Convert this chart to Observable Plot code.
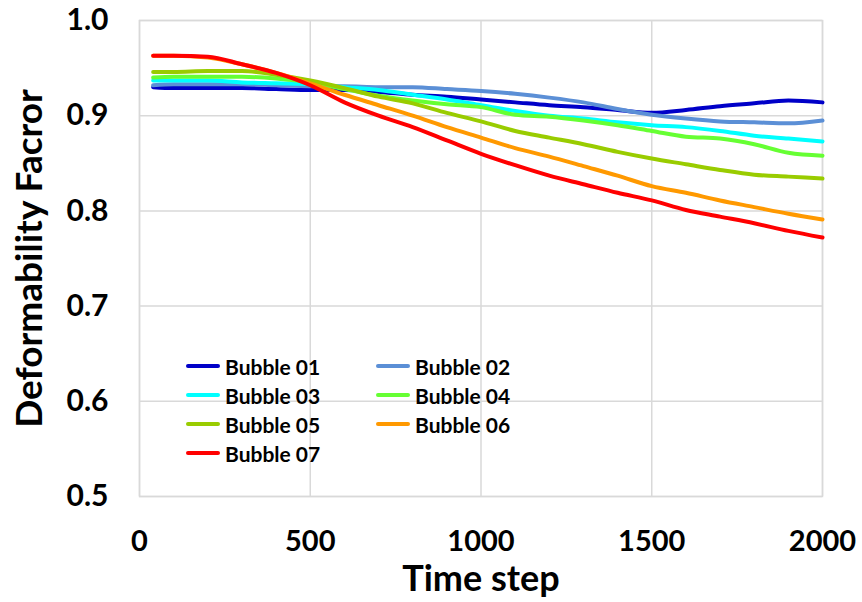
<!DOCTYPE html>
<html>
<head>
<meta charset="utf-8">
<script src="https://cdn.jsdelivr.net/npm/d3@7"></script>
<script src="https://cdn.jsdelivr.net/npm/@observablehq/plot@0.6"></script>
<style>
  body { margin: 0; background: #fff; }
  #wrap { position: relative; width: 862px; height: 602px; font-family: Lato, "Open Sans", sans-serif; }
  #legend { position: absolute; left: 186px; top: 353px; display: grid; grid-template-columns: 190px 190px; row-gap: 3px; font-weight: 700; font-size: 21px; color: #000; }
  .item { display: flex; align-items: center; height: 26px; }
  .sw { width: 34px; height: 4px; border-radius: 2px; margin-right: 5px; }
</style>
</head>
<body>
<div id="wrap"></div>
<script>
const steps = [40, 100, 200, 300, 400, 500, 600, 700, 800, 900, 1000, 1100, 1200, 1300, 1400, 1500, 1600, 1700, 1800, 1900, 2000];
const seriesNames = ["Bubble 01", "Bubble 02", "Bubble 03", "Bubble 04", "Bubble 05", "Bubble 06", "Bubble 07"];
const colors = ["#0000C8", "#5B8FD6", "#00FFFF", "#66FF33", "#99CC00", "#FF9900", "#FF0000"];
const bubble01 = [0.930, 0.929, 0.929, 0.929, 0.928, 0.927, 0.927, 0.925, 0.922, 0.920, 0.917, 0.914, 0.911, 0.909, 0.906, 0.903, 0.906, 0.910, 0.913, 0.916, 0.914];
const bubble02 = [0.932, 0.933, 0.933, 0.933, 0.932, 0.931, 0.931, 0.930, 0.930, 0.928, 0.926, 0.923, 0.919, 0.914, 0.907, 0.901, 0.897, 0.894, 0.893, 0.892, 0.895];
const bubble03 = [0.937, 0.937, 0.937, 0.935, 0.934, 0.933, 0.930, 0.927, 0.922, 0.917, 0.911, 0.905, 0.900, 0.897, 0.893, 0.890, 0.888, 0.884, 0.879, 0.876, 0.873];
const bubble04 = [0.940, 0.941, 0.941, 0.941, 0.939, 0.935, 0.928, 0.921, 0.916, 0.912, 0.909, 0.901, 0.899, 0.895, 0.890, 0.884, 0.878, 0.876, 0.870, 0.861, 0.858];
const bubble05 = [0.946, 0.946, 0.947, 0.947, 0.943, 0.937, 0.929, 0.920, 0.913, 0.903, 0.894, 0.884, 0.877, 0.870, 0.862, 0.855, 0.849, 0.843, 0.838, 0.836, 0.834];
const bubble06 = [0.963, 0.963, 0.961, 0.954, 0.945, 0.934, 0.922, 0.911, 0.900, 0.888, 0.877, 0.866, 0.857, 0.847, 0.837, 0.826, 0.819, 0.811, 0.804, 0.797, 0.791];
const bubble07 = [0.963, 0.963, 0.962, 0.954, 0.945, 0.932, 0.914, 0.900, 0.888, 0.874, 0.860, 0.848, 0.837, 0.828, 0.819, 0.811, 0.801, 0.794, 0.787, 0.779, 0.772];
const xTicks = [0, 500, 1000, 1500, 2000];
const yTicks = [0.5, 0.6, 0.7, 0.8, 0.9, 1.0];

const allSeries = [bubble01, bubble02, bubble03, bubble04, bubble05, bubble06, bubble07];
const data = [];
allSeries.forEach((vals, i) => vals.forEach((v, j) => data.push({series: seriesNames[i], step: steps[j], value: v})));

const grid = "#d9d9d9";
const chart = Plot.plot({
  width: 862,
  height: 602,
  marginLeft: 139,
  marginRight: 40,
  marginTop: 20,
  marginBottom: 106,
  style: {fontFamily: "Lato, 'Open Sans', sans-serif", background: "#fff", overflow: "visible"},
  x: {domain: [0, 2000], ticks: xTicks},
  y: {domain: [0.5, 1.0], ticks: yTicks},
  color: {domain: seriesNames, range: colors},
  marks: [
    Plot.gridX(xTicks, {stroke: grid, strokeOpacity: 1, strokeWidth: 1.5}),
    Plot.gridY(yTicks, {stroke: grid, strokeOpacity: 1, strokeWidth: 1.5}),
    Plot.frame({stroke: grid, strokeWidth: 1.5}),
    Plot.axisX(xTicks, {tickSize: 0, tickPadding: 34, fontSize: 29, fontWeight: 700, fill: "#000", tickFormat: d => String(d), label: null}),
    Plot.axisY(yTicks, {tickSize: 0, tickPadding: 31, fontSize: 30, fontWeight: 700, fill: "#000", tickFormat: d => d.toFixed(1), label: null}),
    Plot.text(["Time step"], {frameAnchor: "bottom", dy: 83, fontSize: 36, fontWeight: 700, fill: "#000", lineAnchor: "middle"}),
    Plot.text(["Deformability Facror"], {frameAnchor: "left", dx: -109, rotate: -90, textAnchor: "middle", lineAnchor: "middle", fontSize: 37, fontWeight: 700, fill: "#000"}),
    Plot.line(data, {x: "step", y: "value", z: "series", stroke: "series", strokeWidth: 4, curve: "monotone-x"})
  ]
});
document.getElementById("wrap").appendChild(chart);

const legend = document.createElement("div");
legend.id = "legend";
seriesNames.forEach((name, i) => {
  const it = document.createElement("div");
  it.className = "item";
  const sw = document.createElement("span");
  sw.className = "sw";
  sw.style.background = colors[i];
  const t = document.createElement("span");
  t.textContent = name;
  it.appendChild(sw);
  it.appendChild(t);
  legend.appendChild(it);
});
document.getElementById("wrap").appendChild(legend);
</script>
</body>
</html>
